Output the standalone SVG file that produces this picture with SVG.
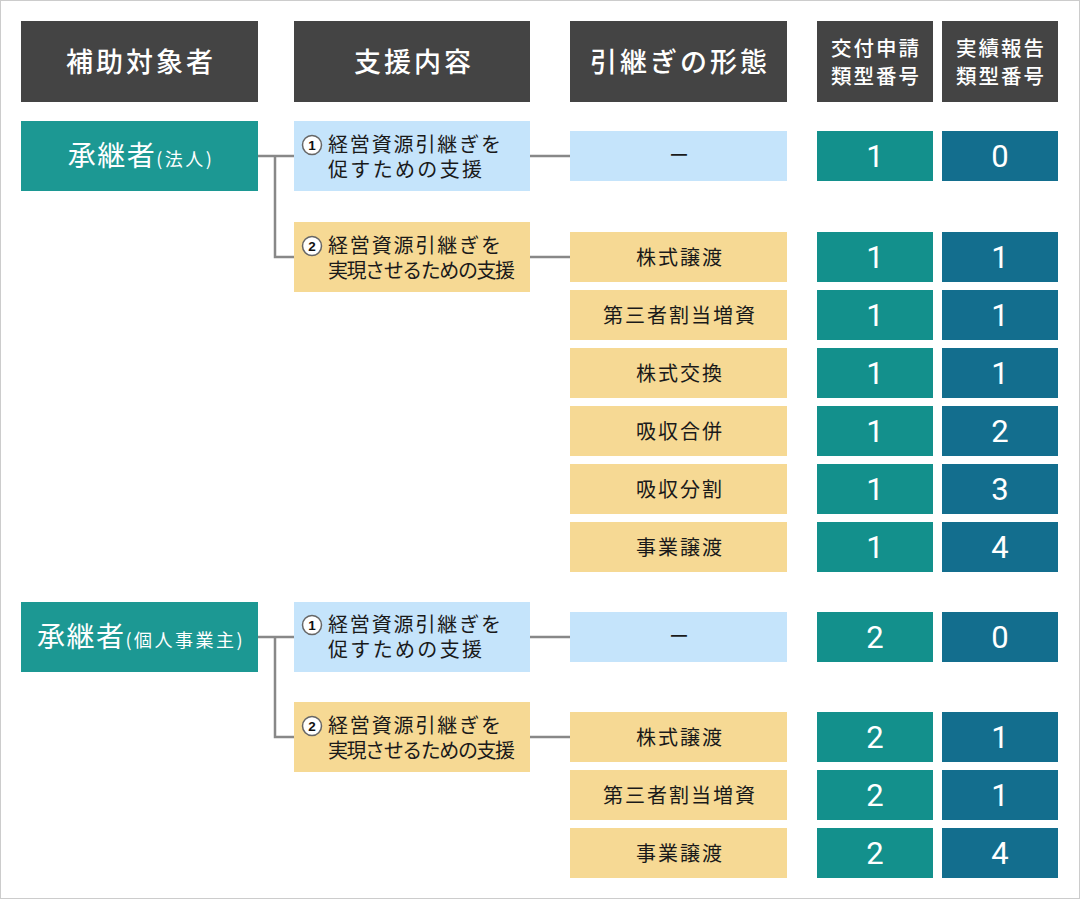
<svg xmlns="http://www.w3.org/2000/svg" width="1080" height="899" viewBox="0 0 1080 899">
<style>
.hd{fill:#444444}
.hdt{fill:#ffffff;font-family:"Noto Sans CJK JP","Noto Sans",sans-serif;font-size:27px;font-weight:500;letter-spacing:3px;text-anchor:middle}
.hdt2{fill:#ffffff;font-family:"Noto Sans CJK JP","Noto Sans",sans-serif;font-size:20.5px;font-weight:500;letter-spacing:2px;text-anchor:middle}
.lab{fill:#1c9893}
.labt{fill:#ffffff;font-family:"Noto Sans CJK JP","Noto Sans",sans-serif;font-size:28px;letter-spacing:1.5px;text-anchor:middle}
.sm{font-size:18px;letter-spacing:2.5px}
.blue{fill:#c5e4fb}
.yel{fill:#f6d994}
.bt{fill:#1a1a1a;font-family:"Noto Sans CJK JP","Noto Sans",sans-serif;font-size:20px}
.ft{fill:#1a1a1a;font-family:"Noto Sans CJK JP","Noto Sans",sans-serif;font-size:20px;letter-spacing:2px;text-anchor:middle}
.n1{fill:#13908c}
.n2{fill:#136e8e}
.nt{fill:#ffffff;font-family:Roboto,"Noto Sans",sans-serif;font-size:31px;text-anchor:middle}
.mk{fill:#ffffff;stroke:#666666;stroke-width:1.5}
.mkt{fill:#111111;font-family:"Liberation Sans",Arial,sans-serif;font-size:13.5px;font-weight:bold;text-anchor:middle}
.ln{fill:none;stroke:#888888;stroke-width:2.5}
</style>
<rect x="0.5" y="0.5" width="1079" height="898" fill="#ffffff" stroke="#cccccc" stroke-width="1"/>

<g id="connectors">
<path class="ln" d="M258 156 H294 M275 156 V257 H294 M530 156 H570 M530 257 H570"/>
<path class="ln" d="M258 637 H294 M275 637 V737 H294 M530 637 H570 M530 737 H570"/>
</g>

<g id="header-1"><rect class="hd" x="21" y="21" width="237" height="81"/><text class="hdt" x="141" y="72">補助対象者</text></g>
<g id="header-2"><rect class="hd" x="294" y="21" width="236" height="81"/><text class="hdt" x="414" y="72">支援内容</text></g>
<g id="header-3"><rect class="hd" x="570" y="21" width="217" height="81"/><text class="hdt" x="680" y="72">引継ぎの形態</text></g>
<g id="header-4"><rect class="hd" x="817" y="21" width="116" height="81"/><text class="hdt2" x="876" y="56">交付申請</text><text class="hdt2" x="876" y="84">類型番号</text></g>
<g id="header-5"><rect class="hd" x="942" y="21" width="116" height="81"/><text class="hdt2" x="1001" y="56">実績報告</text><text class="hdt2" x="1001" y="84">類型番号</text></g>

<!-- Section 1 -->
<g id="recipient-corp"><rect class="lab" x="21" y="121" width="237" height="70"/><text class="labt" x="141" y="166">承継者<tspan class="sm">(法人)</tspan></text></g>
<g id="support-1a"><rect class="blue" x="294" y="121" width="236" height="70"/><circle class="mk" cx="312" cy="145" r="9.5"/><text class="mkt" x="312" y="150">1</text><text class="bt" x="328" y="152" textLength="173" lengthAdjust="spacing">経営資源引継ぎを</text><text class="bt" x="328" y="177" textLength="154" lengthAdjust="spacing">促すための支援</text></g>
<g id="support-1b"><rect class="yel" x="294" y="222" width="236" height="70"/><circle class="mk" cx="312" cy="246" r="9.5"/><text class="mkt" x="312" y="251">2</text><text class="bt" x="328" y="253" textLength="173" lengthAdjust="spacing">経営資源引継ぎを</text><text class="bt" x="328" y="278" textLength="187" lengthAdjust="spacing">実現させるための支援</text></g>

<g id="form-1-0"><rect class="blue" x="570" y="131" width="217" height="50"/><text class="ft" x="680" y="163">ー</text></g>
<g id="num-1-0"><rect class="n1" x="817" y="131" width="116" height="50"/><text class="nt" x="875" y="167">1</text><rect class="n2" x="942" y="131" width="116" height="50"/><text class="nt" x="1000" y="167">0</text></g>

<g id="form-1-1"><rect class="yel" x="570" y="232" width="217" height="50"/><text class="ft" x="680" y="264.5">株式譲渡</text></g>
<g id="num-1-1"><rect class="n1" x="817" y="232" width="116" height="50"/><text class="nt" x="875" y="268">1</text><rect class="n2" x="942" y="232" width="116" height="50"/><text class="nt" x="1000" y="268">1</text></g>

<g id="form-1-2"><rect class="yel" x="570" y="290" width="217" height="50"/><text class="ft" x="680" y="322.5">第三者割当増資</text></g>
<g id="num-1-2"><rect class="n1" x="817" y="290" width="116" height="50"/><text class="nt" x="875" y="326">1</text><rect class="n2" x="942" y="290" width="116" height="50"/><text class="nt" x="1000" y="326">1</text></g>

<g id="form-1-3"><rect class="yel" x="570" y="348" width="217" height="50"/><text class="ft" x="680" y="380.5">株式交換</text></g>
<g id="num-1-3"><rect class="n1" x="817" y="348" width="116" height="50"/><text class="nt" x="875" y="384">1</text><rect class="n2" x="942" y="348" width="116" height="50"/><text class="nt" x="1000" y="384">1</text></g>

<g id="form-1-4"><rect class="yel" x="570" y="406" width="217" height="50"/><text class="ft" x="680" y="438.5">吸収合併</text></g>
<g id="num-1-4"><rect class="n1" x="817" y="406" width="116" height="50"/><text class="nt" x="875" y="442">1</text><rect class="n2" x="942" y="406" width="116" height="50"/><text class="nt" x="1000" y="442">2</text></g>

<g id="form-1-5"><rect class="yel" x="570" y="464" width="217" height="50"/><text class="ft" x="680" y="496.5">吸収分割</text></g>
<g id="num-1-5"><rect class="n1" x="817" y="464" width="116" height="50"/><text class="nt" x="875" y="500">1</text><rect class="n2" x="942" y="464" width="116" height="50"/><text class="nt" x="1000" y="500">3</text></g>

<g id="form-1-6"><rect class="yel" x="570" y="522" width="217" height="50"/><text class="ft" x="680" y="554.5">事業譲渡</text></g>
<g id="num-1-6"><rect class="n1" x="817" y="522" width="116" height="50"/><text class="nt" x="875" y="558">1</text><rect class="n2" x="942" y="522" width="116" height="50"/><text class="nt" x="1000" y="558">4</text></g>

<!-- Section 2 -->
<g id="recipient-indiv"><rect class="lab" x="21" y="602" width="237" height="70"/><text class="labt" x="141" y="647">承継者<tspan class="sm">(個人事業主)</tspan></text></g>
<g id="support-2a"><rect class="blue" x="294" y="602" width="236" height="70"/><circle class="mk" cx="312" cy="625" r="9.5"/><text class="mkt" x="312" y="630">1</text><text class="bt" x="328" y="632" textLength="173" lengthAdjust="spacing">経営資源引継ぎを</text><text class="bt" x="328" y="657" textLength="154" lengthAdjust="spacing">促すための支援</text></g>
<g id="support-2b"><rect class="yel" x="294" y="702" width="236" height="70"/><circle class="mk" cx="312" cy="726" r="9.5"/><text class="mkt" x="312" y="731">2</text><text class="bt" x="328" y="733" textLength="173" lengthAdjust="spacing">経営資源引継ぎを</text><text class="bt" x="328" y="758" textLength="187" lengthAdjust="spacing">実現させるための支援</text></g>

<g id="form-2-0"><rect class="blue" x="570" y="612" width="217" height="50"/><text class="ft" x="680" y="644">ー</text></g>
<g id="num-2-0"><rect class="n1" x="817" y="612" width="116" height="50"/><text class="nt" x="875" y="648">2</text><rect class="n2" x="942" y="612" width="116" height="50"/><text class="nt" x="1000" y="648">0</text></g>

<g id="form-2-1"><rect class="yel" x="570" y="712" width="217" height="50"/><text class="ft" x="680" y="744.5">株式譲渡</text></g>
<g id="num-2-1"><rect class="n1" x="817" y="712" width="116" height="50"/><text class="nt" x="875" y="748">2</text><rect class="n2" x="942" y="712" width="116" height="50"/><text class="nt" x="1000" y="748">1</text></g>

<g id="form-2-2"><rect class="yel" x="570" y="770" width="217" height="50"/><text class="ft" x="680" y="802.5">第三者割当増資</text></g>
<g id="num-2-2"><rect class="n1" x="817" y="770" width="116" height="50"/><text class="nt" x="875" y="806">2</text><rect class="n2" x="942" y="770" width="116" height="50"/><text class="nt" x="1000" y="806">1</text></g>

<g id="form-2-3"><rect class="yel" x="570" y="828" width="217" height="50"/><text class="ft" x="680" y="860.5">事業譲渡</text></g>
<g id="num-2-3"><rect class="n1" x="817" y="828" width="116" height="50"/><text class="nt" x="875" y="864">2</text><rect class="n2" x="942" y="828" width="116" height="50"/><text class="nt" x="1000" y="864">4</text></g>
</svg>
